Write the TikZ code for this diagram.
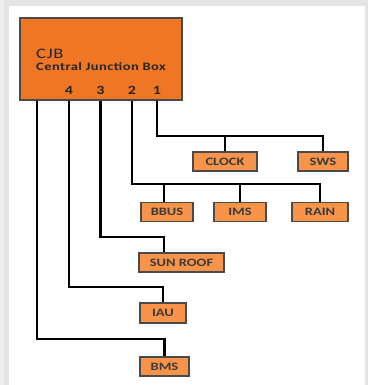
\documentclass[tikz,border=0pt]{standalone}
\usepackage{fontspec}
\newfontfamily\calfont{Carlito}[FakeStretch=1.28]
\newfontfamily\calwide{Carlito}[FakeStretch=1.28,LetterSpace=4]
\definecolor{cjbfill}{HTML}{EE7624}
\definecolor{unitfill}{HTML}{F7944A}
\definecolor{boxline}{HTML}{4A4A4A}
\definecolor{labeltext}{HTML}{3A3A3A}
\definecolor{shadowgray}{HTML}{E4E4E4}
\begin{document}
\begin{tikzpicture}[x=1pt,y=-1pt,
  wire/.style={line width=2.1pt, black, line join=miter},
  unit/.style={draw=boxline, fill=unitfill, line width=1.1pt, minimum height=19pt,
    inner sep=0pt, font=\calfont\bfseries\fontsize{11.3}{12}\selectfont, text=labeltext},
  cjbtext/.style={anchor=base west, inner sep=0pt, text=black!85},
  port/.style={anchor=base, inner sep=0pt, font=\calfont\bfseries\fontsize{12.5}{13}\selectfont, text=black!85}
]
\useasboundingbox (0,0) rectangle (368,385);
\fill[shadowgray] (0,0) rectangle (368,385);
\fill[black!7] (0,0) rectangle (4,385);
\fill[white] (9,6) rectangle (365,385);

% central junction box
\node[draw=boxline, fill=cjbfill, line width=1.2pt, minimum width=162pt,
  minimum height=82pt, inner sep=0pt] (cjb) at (101,59) {};
\node[cjbtext, font=\calwide\fontsize{14.5}{15}\selectfont] (title) at (36,58.3) {CJB};
\node[cjbtext, font=\calwide\bfseries\fontsize{11.3}{12}\selectfont] (sub) at (36,71) {Central Junction Box};
\node[port] (p4) at (69,95) {4};
\node[port] (p3) at (100.5,95) {3};
\node[port] (p2) at (132,95) {2};
\node[port] (p1) at (157,95) {1};
\coordinate (p5) at (37,95);

% bus levels
\coordinate (b1) at (0,136);
\coordinate (b2) at (0,184);
\coordinate (b3) at (0,237);
\coordinate (b4) at (0,287);
\coordinate (b5) at (0,339);
\coordinate (col) at (164,0);

% units
\node[unit, minimum width=64pt] (clock) at (225,161.5) {CLOCK};
\node[unit, minimum width=50pt] (sws) at (323,161.5) {SWS};
\node[unit, minimum width=52pt] (bbus) at (167,212) {BBUS};
\node[unit, minimum width=52pt] (ims) at (240,212) {IMS};
\node[unit, minimum width=56pt] (rain) at (320,212) {RAIN};
\node[unit, minimum width=85pt] (sunroof) at (181.5,262.5) {SUN ROOF};
\node[unit, minimum width=46pt, minimum height=20pt] (iau) at (163,313) {IAU};
\node[unit, minimum width=49pt] (bms) at (164.5,366.5) {BMS};

% wires
\draw[wire] (cjb.south -| p1) |- (b1 -| sws.north) -- (sws.north);
\draw[wire] (clock.north) -- (clock.north |- b1);
\draw[wire] (cjb.south -| p2) |- (b2 -| rain.north) -- (rain.north);
\draw[wire] (bbus.north -| col) -- (b2 -| col);
\draw[wire] (ims.north) -- (ims.north |- b2);
\draw[wire] (cjb.south -| p3) |- (b3 -| col) -- (sunroof.north -| col);
\draw[wire] (cjb.south -| p4) |- (b4 -| iau.north) -- (iau.north);
\draw[wire] (cjb.south -| p5) |- (b5 -| bms.north) -- (bms.north);
\end{tikzpicture}
\end{document}
